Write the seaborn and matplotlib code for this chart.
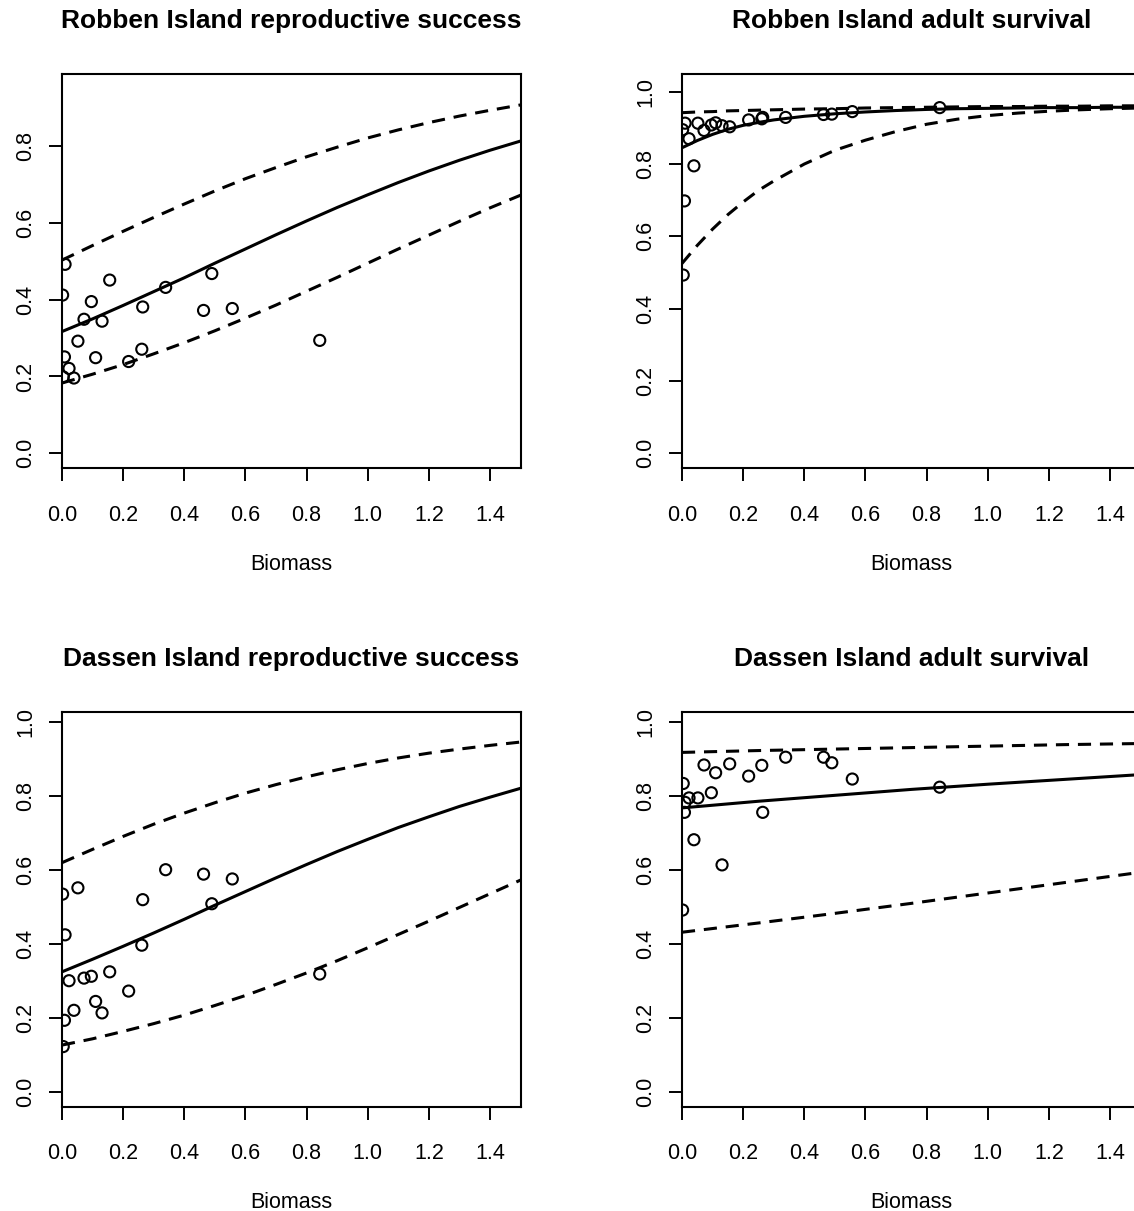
import matplotlib
matplotlib.use("Agg")
import matplotlib.pyplot as plt
import pandas as pd
import seaborn as sns

# ---------------- data ----------------
biomass = [0.002, 0.004, 0.008, 0.010, 0.023, 0.039, 0.052, 0.072, 0.096, 0.110,
           0.131, 0.156, 0.218, 0.261, 0.264, 0.339, 0.463, 0.490, 0.557, 0.843]

robben_rs = [0.412, 0.199, 0.251, 0.492, 0.221, 0.196, 0.292, 0.349, 0.395, 0.249,
             0.344, 0.451, 0.239, 0.271, 0.381, 0.432, 0.372, 0.468, 0.377, 0.294]
robben_surv = [0.895, 0.493, 0.698, 0.913, 0.870, 0.795, 0.913, 0.893, 0.908, 0.914,
               0.906, 0.903, 0.922, 0.925, 0.929, 0.929, 0.937, 0.938, 0.945, 0.956]
dassen_rs = [0.534, 0.122, 0.193, 0.424, 0.300, 0.220, 0.551, 0.307, 0.312, 0.244,
             0.213, 0.324, 0.272, 0.396, 0.519, 0.600, 0.588, 0.508, 0.575, 0.318]
dassen_surv = [0.491, 0.833, 0.755, 0.782, 0.794, 0.681, 0.794, 0.883, 0.808, 0.862,
               0.613, 0.886, 0.853, 0.882, 0.755, 0.904, 0.904, 0.889, 0.845, 0.823]

grid = [0.0, 0.1, 0.2, 0.3, 0.4, 0.5, 0.6, 0.7, 0.8, 0.9, 1.0, 1.1, 1.2, 1.3, 1.4, 1.5]

robben_rs_fit = [0.317, 0.350, 0.385, 0.421, 0.457, 0.495, 0.532, 0.569, 0.605, 0.640,
                 0.673, 0.705, 0.735, 0.763, 0.789, 0.813]
robben_rs_hi = [0.503, 0.541, 0.578, 0.614, 0.649, 0.683, 0.715, 0.744, 0.772, 0.797,
                0.821, 0.842, 0.861, 0.878, 0.893, 0.907]
robben_rs_lo = [0.183, 0.206, 0.231, 0.259, 0.288, 0.319, 0.352, 0.386, 0.422, 0.458,
                0.495, 0.532, 0.568, 0.604, 0.639, 0.672]

surv_grid = [0.0, 0.05, 0.1, 0.15, 0.2, 0.25, 0.3, 0.4, 0.5, 0.6, 0.7, 0.8, 0.9, 1.0,
             1.1, 1.2, 1.3, 1.4, 1.5]
robben_surv_fit = [0.845, 0.865, 0.882, 0.896, 0.907, 0.915, 0.922, 0.932, 0.939, 0.944,
                   0.948, 0.951, 0.953, 0.954, 0.955, 0.956, 0.956, 0.957, 0.957]
robben_surv_hi = [0.942, 0.944, 0.945, 0.947, 0.948, 0.949, 0.950, 0.952, 0.953, 0.955,
                  0.956, 0.957, 0.958, 0.959, 0.959, 0.960, 0.960, 0.961, 0.961]
robben_surv_lo = [0.525, 0.575, 0.620, 0.660, 0.695, 0.727, 0.753, 0.800, 0.838, 0.866,
                  0.890, 0.910, 0.924, 0.934, 0.941, 0.946, 0.950, 0.953, 0.955]

dassen_rs_fit = [0.324, 0.358, 0.393, 0.429, 0.466, 0.504, 0.541, 0.578, 0.614, 0.649,
                 0.682, 0.714, 0.743, 0.771, 0.796, 0.820]
dassen_rs_hi = [0.619, 0.655, 0.690, 0.723, 0.753, 0.781, 0.807, 0.830, 0.851, 0.870,
                0.887, 0.902, 0.915, 0.926, 0.936, 0.945]
dassen_rs_lo = [0.126, 0.143, 0.163, 0.184, 0.207, 0.233, 0.260, 0.290, 0.321, 0.354,
                0.389, 0.425, 0.461, 0.498, 0.535, 0.572]

lin_grid = [0.0, 0.25, 0.5, 0.75, 1.0, 1.25, 1.5]
dassen_surv_fit = [0.767, 0.785, 0.801, 0.817, 0.831, 0.844, 0.857]
dassen_surv_hi = [0.917, 0.922, 0.926, 0.930, 0.934, 0.938, 0.941]
dassen_surv_lo = [0.431, 0.456, 0.482, 0.509, 0.537, 0.565, 0.593]

titles = ["Robben Island reproductive success", "Robben Island adult survival",
          "Dassen Island reproductive success", "Dassen Island adult survival"]
x_ticks = [0.0, 0.2, 0.4, 0.6, 0.8, 1.0, 1.2, 1.4]
y_ticks_short = [0.0, 0.2, 0.4, 0.6, 0.8]
y_ticks_full = [0.0, 0.2, 0.4, 0.6, 0.8, 1.0]
xlabel = "Biomass"

# ---------------- style ----------------
sns.set_style("ticks")
plt.rcParams["font.family"] = ["Liberation Sans", "DejaVu Sans"]
plt.rcParams["text.color"] = "black"
plt.rcParams["axes.labelcolor"] = "black"

W, H = 1134, 1211
fig = plt.figure(figsize=(W / 100, H / 100), dpi=100)


def add_axes_px(x0, y0, x1, y1):
    return fig.add_axes([x0 / W, 1 - y1 / H, (x1 - x0) / W, (y1 - y0) / H])


panels = [
    dict(rect=(62, 74, 520.6, 468.3), ylim=(-0.039, 0.9875), yt=y_ticks_short,
         pts=robben_rs, cx=grid, fit=robben_rs_fit, hi=robben_rs_hi, lo=robben_rs_lo),
    dict(rect=(682, 74, 1140.6, 468.3), ylim=(-0.0415, 1.049), yt=y_ticks_full,
         pts=robben_surv, cx=surv_grid, fit=robben_surv_fit, hi=robben_surv_hi, lo=robben_surv_lo),
    dict(rect=(62, 711.7, 520.6, 1106.7), ylim=(-0.0405, 1.027), yt=y_ticks_full,
         pts=dassen_rs, cx=grid, fit=dassen_rs_fit, hi=dassen_rs_hi, lo=dassen_rs_lo),
    dict(rect=(682, 711.7, 1140.6, 1106.7), ylim=(-0.0405, 1.027), yt=y_ticks_full,
         pts=dassen_surv, cx=lin_grid, fit=dassen_surv_fit, hi=dassen_surv_hi, lo=dassen_surv_lo),
]

lw_curve = 2.2
dash = (0, (4.3, 2.9))

for title, p in zip(titles, panels):
    ax = add_axes_px(*p["rect"])
    curves = pd.DataFrame({"x": p["cx"], "fit": p["fit"], "hi": p["hi"], "lo": p["lo"]})
    sns.lineplot(data=curves, x="x", y="fit", ax=ax, color="black", lw=lw_curve,
                 sort=False, estimator=None)
    sns.lineplot(data=curves, x="x", y="hi", ax=ax, color="black", lw=lw_curve,
                 linestyle=dash, sort=False, estimator=None)
    sns.lineplot(data=curves, x="x", y="lo", ax=ax, color="black", lw=lw_curve,
                 linestyle=dash, sort=False, estimator=None)
    pts = pd.DataFrame({"b": biomass, "v": p["pts"]})
    sns.scatterplot(data=pts, x="b", y="v", ax=ax, marker="o", s=64,
                    facecolor="none", edgecolor="black", linewidth=1.5, zorder=3)

    ax.set_xlim(0, 1.5)
    ax.set_ylim(*p["ylim"])
    ax.set_xticks(x_ticks)
    ax.set_xticklabels([f"{t:.1f}" for t in x_ticks])
    ax.set_yticks(p["yt"])
    ax.set_yticklabels([f"{t:.1f}" for t in p["yt"]], rotation=90, va="center")
    ax.tick_params(axis="both", direction="out", length=9.4, width=1.4,
                   labelsize=15.5, color="black", labelcolor="black")
    ax.tick_params(axis="x", pad=17)
    ax.tick_params(axis="y", pad=9)
    for s in ax.spines.values():
        s.set_visible(True)
        s.set_linewidth(1.5)
        s.set_color("black")
    ax.set_xlabel(xlabel, fontsize=15.5, labelpad=20, color="black")
    ax.set_ylabel("")
    ax.set_title(title, fontsize=19, fontweight="bold", pad=33, color="black")
    ax.grid(False)

fig.savefig("out.png", dpi=100, facecolor="white")
